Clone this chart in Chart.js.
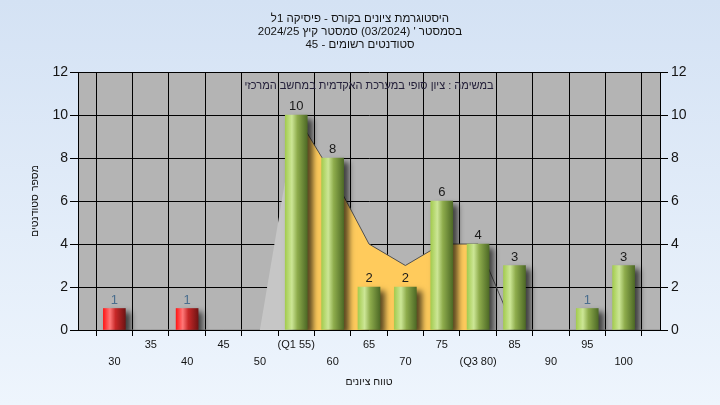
<!DOCTYPE html>
<html lang="he">
<head>
<meta charset="utf-8">
<script src="https://cdn.jsdelivr.net/npm/chart.js@4.4.1/dist/chart.umd.min.js"></script>
<style>
  body { margin: 0; width: 720px; height: 405px; overflow: hidden; background: linear-gradient(#d4e2f4, #eef5fd); }
  canvas { display: block; }
</style>
</head>
<body>
<canvas id="histChart" width="720" height="405"></canvas>
<script>
// grade buckets (first and last are empty padding slots on the axis)
const categories = ['25', '30', '35', '40', '45', '50', '55', '60', '65', '70', '75', '80', '85', '90', '95', '100', '105'];
const tickLabels = ['', '30', '35', '40', '45', '50', '(Q1 55)', '60', '65', '70', '75', '(Q3 80)', '85', '90', '95', '100', ''];
const students = [null, 1, 0, 1, 0, 0, 10, 8, 2, 2, 6, 4, 3, 0, 1, 3, null];
const curve = [null, 0, 0, 0, 0, 0, 10, 7.2, 4, 3, 4, 4, 0, 0, 0, 0, 0];
const passIndex = 6; // 55 and up is green

const titleLines = [
    'היסטוגרמת ציונים בקורס - פיסיקה 1ל',
    'בסמסטר \' (03/2024) סמסטר קיץ 2024/25',
    'סטודנטים רשומים - 45'
];
const subTitle = 'במשימה : ציון סופי במערכת האקדמית במחשב המרכזי';
const yTitle = 'מספר סטודנטים';
const xTitle = 'טווח ציונים';

const FONT = '"Liberation Sans", Arial, sans-serif';
Chart.defaults.font.family = FONT;

function barGradient(ctx) {
    const chart = ctx.chart;
    const i = ctx.dataIndex;
    const red = i < passIndex;
    if (!students[i]) return 'rgba(0,0,0,0)';
    if (!chart.chartArea) return red ? '#e02020' : '#9cc050';
    const x = chart.scales.x.getPixelForValue(i);
    const g = chart.ctx.createLinearGradient(x - 11, 0, x + 11, 0);
    if (red) {
        g.addColorStop(0, '#ff1818');
        g.addColorStop(0.3, '#ff7878');
        g.addColorStop(0.55, '#c82828');
        g.addColorStop(1, '#701414');
    } else {
        g.addColorStop(0, '#a4cc50');
        g.addColorStop(0.3, '#cce696');
        g.addColorStop(0.55, '#8eac4c');
        g.addColorStop(1, '#4e6a26');
    }
    return g;
}

const chartBackground = {
    id: 'chartBackground',
    beforeDraw(chart) {
        const { ctx, chartArea: a } = chart;
        ctx.save();
        ctx.fillStyle = '#b4b4b4';
        ctx.fillRect(a.left, a.top, a.right - a.left, a.bottom - a.top);
        ctx.restore();
    }
};

const barShadow = {
    id: 'barShadow',
    beforeDatasetDraw(chart, args) {
        if (args.meta.type !== 'bar') return;
        const ctx = chart.ctx;
        ctx.save();
        ctx.shadowColor = 'rgba(0,0,0,0.65)';
        ctx.shadowBlur = 6;
        ctx.shadowOffsetX = 5;
        ctx.shadowOffsetY = 4;
    },
    afterDatasetDraw(chart, args) {
        if (args.meta.type !== 'bar') return;
        chart.ctx.restore();
    }
};

const texts = {
    id: 'texts',
    afterDatasetsDraw(chart) {
        const { ctx, chartArea: a } = chart;
        ctx.save();
        ctx.direction = 'rtl';
        ctx.textAlign = 'center';
        ctx.textBaseline = 'alphabetic';

        // value labels
        const meta = chart.getDatasetMeta(0);
        ctx.font = '13px ' + FONT;
        meta.data.forEach((bar, i) => {
            const v = students[i];
            if (!v) return;
            ctx.fillStyle = v === 1 ? '#4a6e8e' : '#1a1a1a';
            ctx.fillText(String(v), bar.x, bar.y - 5);
        });

        // note inside the plot
        ctx.fillStyle = '#24203a';
        ctx.font = '11px ' + FONT;
        ctx.fillText(subTitle, (a.left + a.right) / 2, a.top + 17);

        // titles
        ctx.fillStyle = '#141414';
        ctx.font = '11.5px ' + FONT;
        titleLines.forEach((t, i) => ctx.fillText(t, 360, 22 + i * 13));
        ctx.font = '10.5px ' + FONT;
        ctx.fillText(xTitle, (a.left + a.right) / 2, 385);

        ctx.translate(38, (a.top + a.bottom) / 2);
        ctx.rotate(-Math.PI / 2);
        ctx.fillText(yTitle, 0, 0);
        ctx.restore();
    }
};

new Chart(document.getElementById('histChart'), {
    data: {
        labels: categories,
        datasets: [{
            type: 'bar',
            data: students,
            backgroundColor: barGradient,
            barThickness: 22,
            order: 1
        }, {
            type: 'line',
            data: curve,
            fill: 'origin',
            pointRadius: 0,
            borderWidth: 1,
            tension: 0,
            order: 2,
            segment: {
                backgroundColor: c => {
                    const i = c.p0DataIndex;
                    if (i === 5) return '#c6c6c6';
                    if (i >= 6 && i <= 10) return '#ffcb5c';
                    return 'rgba(0,0,0,0)';
                },
                borderColor: c => {
                    const i = c.p0DataIndex;
                    if (i === 5) return 'rgba(0,0,0,0)';
                    if (i >= 6 && i <= 11) return '#505050';
                    return '#8c8c8c';
                }
            }
        }]
    },
    options: {
        responsive: false,
        animation: false,
        layout: { padding: { top: 72, left: 0, right: 0, bottom: 0 } },
        plugins: { legend: { display: false }, tooltip: { enabled: false } },
        scales: {
            x: {
                offset: false,
                grid: { color: '#000', lineWidth: 1, tickLength: 6 },
                border: { color: '#000' },
                ticks: {
                    autoSkip: false,
                    maxRotation: 0,
                    padding: 1,
                    color: '#141414',
                    font: { size: 11, lineHeight: 1.5 },
                    callback: (v, i) => {
                        const t = tickLabels[i];
                        if (!t) return '';
                        return i % 2 === 1 ? ['', t] : [t];
                    }
                },
                afterFit: s => { s.height = 75; }
            },
            y: {
                position: 'left',
                min: 0, max: 12,
                grid: { color: '#000', lineWidth: 1, tickLength: 8 },
                border: { color: '#000' },
                ticks: { stepSize: 2, padding: 2, color: '#141414', font: { size: 14 } },
                afterFit: s => { s.width = 78; }
            },
            y2: {
                position: 'right',
                min: 0, max: 12,
                grid: { drawOnChartArea: false, color: '#000', tickLength: 8 },
                border: { color: '#000' },
                ticks: { stepSize: 2, padding: 3, color: '#141414', font: { size: 14 } },
                afterFit: s => { s.width = 60; }
            }
        }
    },
    plugins: [chartBackground, barShadow, texts]
});
</script>
</body>
</html>
